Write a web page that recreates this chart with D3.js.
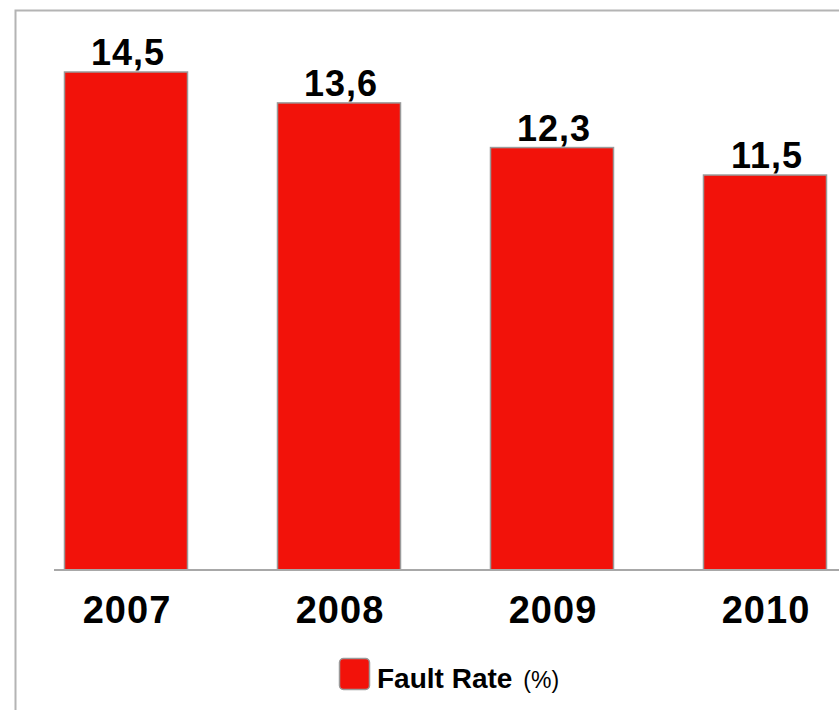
<!DOCTYPE html>
<html>
<head>
<meta charset="utf-8">
<script src="https://cdn.jsdelivr.net/npm/d3@7"></script>
<style>
  html, body { margin: 0; padding: 0; background: #fff; }
  svg { display: block; }
  text { font-family: "Liberation Sans", Arial, sans-serif; fill: #000; }
</style>
</head>
<body>
<svg id="chart" width="839" height="710"></svg>
<script>
// Fault rate per year (%)
const years = ["2007", "2008", "2009", "2010"];
const faultRate = [14.5, 13.6, 12.3, 11.5];
const valueLabels = ["14,5", "13,6", "12,3", "11,5"];
const seriesName = "Fault Rate";
const seriesUnit = "(%)";

const svg = d3.select("#chart");
const W = 839, H = 710;
const baseY = 570;
const barColor = "#f2120a";
const edgeColor = "#9a9a9a";

// frame around the chart area
svg.append("path")
  .attr("d", `M15.5,${H + 2} V10.5 H${W + 2}`)
  .attr("fill", "none")
  .attr("stroke", "#b4b4b4")
  .attr("stroke-width", 2);

const x = d3.scaleBand()
  .domain(years)
  .range([19.5, 871.5])
  .paddingInner(0.4225)
  .paddingOuter(0.21125);

const y = d3.scaleLinear()
  .domain([0, 14.5])
  .range([baseY, 72]);

const data = years.map((yr, i) => ({ year: yr, value: faultRate[i], label: valueLabels[i] }));

// bars
svg.append("g").selectAll("rect")
  .data(data)
  .join("rect")
  .attr("x", d => x(d.year))
  .attr("y", d => y(d.value))
  .attr("width", x.bandwidth())
  .attr("height", d => y(0) - y(d.value))
  .attr("fill", barColor)
  .attr("stroke", edgeColor)
  .attr("stroke-width", 1.5);

// category axis
const xAxis = svg.append("g")
  .attr("transform", `translate(0,${baseY})`)
  .call(d3.axisBottom(x).tickSize(0).tickPadding(0));
xAxis.select(".domain").remove();
xAxis.append("line")
  .attr("x1", 54).attr("x2", W + 2)
  .attr("y1", 0).attr("y2", 0)
  .attr("stroke", "#a8a8a8")
  .attr("stroke-width", 2);
xAxis.selectAll(".tick text")
  .attr("dy", null)
  .attr("y", 53)
  .attr("dx", 1)
  .style("font-family", "'Liberation Sans', Arial, sans-serif")
  .style("font-size", "38px")
  .style("font-weight", "bold")
  .style("letter-spacing", "1px")
  .attr("fill", "#000");

// value labels above bars
svg.append("g").selectAll("text")
  .data(data)
  .join("text")
  .attr("x", d => x(d.year) + x.bandwidth() / 2 + 2)
  .attr("y", d => y(d.value) - 7)
  .attr("text-anchor", "middle")
  .style("font-size", "36px")
  .style("font-weight", "bold")
  .style("letter-spacing", "1px")
  .text(d => d.label);

// legend
const legend = svg.append("g").attr("transform", "translate(339,658)");
legend.append("rect")
  .attr("x", 0.5).attr("y", 0.5)
  .attr("width", 30).attr("height", 31)
  .attr("rx", 4)
  .attr("fill", barColor)
  .attr("stroke", edgeColor)
  .attr("stroke-width", 1.5);
const legendText = legend.append("text")
  .attr("x", 38)
  .attr("y", 30);
legendText.append("tspan")
  .style("font-size", "28px")
  .style("font-weight", "bold")
  .text(seriesName);
legendText.append("tspan")
  .attr("dx", 11)
  .style("font-size", "23px")
  .text(seriesUnit);
</script>
</body>
</html>
